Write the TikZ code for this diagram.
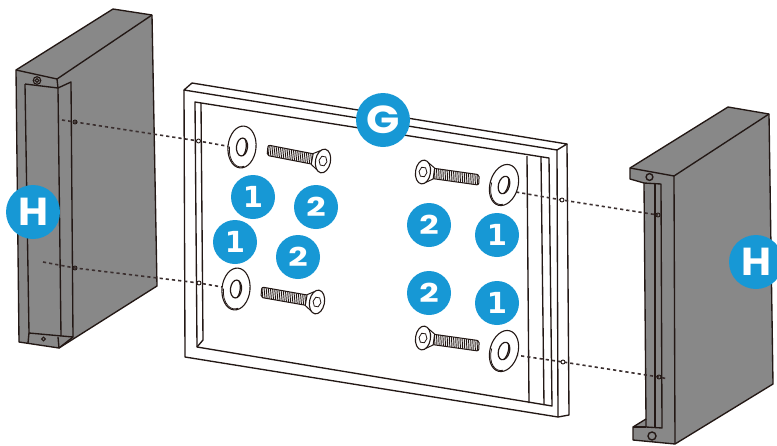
\documentclass[tikz,border=0pt]{standalone}
\usepackage{fontspec}
\setmainfont{Poppins}
\newfontfamily\onefont{DejaVu Sans}
\definecolor{badgeblue}{HTML}{1798D5}
\definecolor{blockgrey}{HTML}{888888}
\definecolor{linedark}{HTML}{231815}
\definecolor{dashdark}{HTML}{3B2F2F}
\newcommand{\widetxt}[2]{\scalebox{#1}[1]{#2}}
\tikzset{
  ink/.style={draw=linedark,line width=1.35pt,line join=round},
  thin ink/.style={draw=linedark,line width=.8pt},
  block/.style={ink,fill=blockgrey},
  dash line/.style={draw=dashdark,line width=1.6pt,dash pattern=on 3.2pt off 3pt},
  badge/.style={circle,fill=badgeblue,text=white,inner sep=0pt,minimum size=44pt,font=\fontsize{26}{26}\selectfont\bfseries},
  one badge/.style={badge,font=\fontsize{29}{29}\selectfont\onefont\bfseries},
  big badge/.style={badge,minimum size=54pt,font=\fontsize{39}{39}\selectfont\bfseries},
  hole/.style={thin ink,line width=.9pt,fill=none},
  pics/washer/.style={code={
    \draw[ink,fill=white,line width=1.1pt] (0,0) ellipse[x radius=14pt,y radius=21pt];
    \draw[thin ink] (-12.5,1) arc[start angle=180,end angle=290,x radius=12.5pt,y radius=19pt];
    \draw[ink,fill=white,line width=1.2pt] (0,0) ellipse[x radius=5.5pt,y radius=9pt];
    \draw[ink,line width=1.2pt] (2.2,-8) arc[start angle=70,end angle=-70,x radius=3pt,y radius=8.5pt];
  }},
  pics/screw/.style={code={
    \draw[ink,fill=white,line width=1pt,rounded corners=2pt] (8,-5.2) -- (56,-5.2) -- (57,5.2) -- (8,5.2) -- cycle;
    \foreach \t in {11,12.9,...,55}{\draw[thin ink,line width=.85pt] (\t,-5.2) -- (\t+1,5.2);}
    \draw[ink,fill=white,line width=1pt] (4,-10) -- (11,-5.5) -- (11,5.5) -- (4,10) -- cycle;
    \draw[ink,fill=white,line width=1.1pt] (0,0) ellipse[x radius=7.5pt,y radius=12pt];
    \draw[thin ink] (-4,0) -- (-2,-4.5) -- (2,-4.5) -- (4,0) -- (2,4.5) -- (-2,4.5) -- cycle;
  }}
}
\begin{document}
\begin{tikzpicture}[x=1pt,y=-1pt]
\useasboundingbox (0,0) rectangle (777,445);
% left block
\path[block] (113,9) -- (152,15) -- (157,286) -- (59,348) -- (19,342) -- (16,70) -- cycle;
\draw[ink] (16,70) -- (57,79) -- (152,15);
\draw[ink] (57,79) -- (58,88);
\draw[ink] (25,84) -- (58,88) -- (71,82) -- (73,337) -- (59,348);
\draw[ink] (25,84) -- (29,333) -- (73,337);
\draw[ink] (58,88) -- (61,336);
\draw[ink] (29,333) -- (28,343);
\draw[ink] (58,337) -- (59,348);
\draw[thin ink,line width=1.1pt] (37,80.5) circle[radius=3.8pt] (37,80.5) circle[radius=1.8pt];
\draw[thin ink,line width=1.1pt] (43.5,339) circle[radius=1.8pt];
% right block
\path[block] (728,107) -- (769,114) -- (773,384) -- (675,444) -- (633,440) -- (633,427) -- (646,419) -- (644,183) -- (630,179) -- (630,168) -- cycle;
\draw[ink] (630,168) -- (674,176) -- (769,114);
\draw[ink] (674,176) -- (675,444);
\draw[ink] (644,183) -- (661,184) -- (662,428) -- (646,427) -- (646,419);
\draw[ink] (655,183) -- (655,428);
\draw[ink] (633,427) -- (646,427);
\draw[thin ink,line width=1.4pt] (649.5,177) circle[radius=3.4pt];
\draw[thin ink,line width=1.4pt] (652,436) circle[radius=4pt];
% frame
\draw[ink] (184,90) -- (192,83) -- (567,144) -- (557,150) -- cycle;
\draw[ink] (184,90) -- (185,357) -- (558,417) -- (569,415) -- (567,144);
\draw[ink] (557,150) -- (558,417);
\draw[ink] (195,102) -- (549,158) -- (552,406) -- (197,347) -- cycle;
\draw[ink] (201,103) -- (203,340) -- (197,347);
\draw[ink] (541,157) -- (544,405);
\draw[ink] (527,156) -- (529,403);
% hole coordinates
\coordinate (lt0) at (62,120);
\coordinate (lt1) at (75,122);
\coordinate (lt2) at (198.5,141);
\coordinate (lt3) at (232,147);
\coordinate (lb0) at (43,262);
\coordinate (lb1) at (75,268);
\coordinate (lb2) at (199,283);
\coordinate (lb3) at (228,288);
\coordinate (rt0) at (510,191);
\coordinate (rt1) at (562,200);
\coordinate (rt2) at (658,215);
\coordinate (rb0) at (515,355);
\coordinate (rb1) at (563,362);
\coordinate (rb2) at (659,377);
\coordinate (rb3) at (668,379);
% dashed lines
\draw[dash line] (lt0) -- (lt1) -- (lt2) -- (lt3);
\draw[dash line] (lb0) -- (lb1) -- (lb2) -- (lb3);
\draw[dash line] (rt0) -- (rt1) -- (rt2);
\draw[dash line] (rb0) -- (rb1) -- (rb2) -- (rb3);
\foreach \c in {lt1,lb1,rt2,rb2}{\draw[hole] (\c) circle[radius=2pt];}
\foreach \c in {lt2,lb2,rt1,rb1}{\draw[hole,fill=white] (\c) circle[radius=2pt];}
% washers
\pic[rotate=-6] at (242,147) {washer};
\pic[rotate=-6] at (236,289) {washer};
\pic[rotate=-16] at (504,185) {washer};
\pic[rotate=-16] at (504,351) {washer};
% screws
\pic[rotate=169] at (323,161) {screw};
\pic[rotate=170] at (317,302) {screw};
\pic[rotate=-8] at (423,172) {screw};
\pic[rotate=-8] at (423,338) {screw};
% badges
\node[big badge] (G) at (383,120) {\widetxt{1.12}{G}};
\node[big badge] (H1) at (33,212) {\widetxt{1.05}{H}};
\node[big badge] (H2) at (756,262) {\widetxt{1.05}{H}};
\node[one badge] (a1) at (253,197) {1};
\node[one badge] (a2) at (235,242) {1};
\node[one badge] (a3) at (497,235) {1};
\node[one badge] (a4) at (497,303) {1};
\node[badge] (b1) at (316,207) {\widetxt{1.3}{2}};
\node[badge] (b2) at (298,257) {\widetxt{1.3}{2}};
\node[badge] (b3) at (429,225) {\widetxt{1.3}{2}};
\node[badge] (b4) at (429,293) {\widetxt{1.3}{2}};
\end{tikzpicture}
\end{document}
